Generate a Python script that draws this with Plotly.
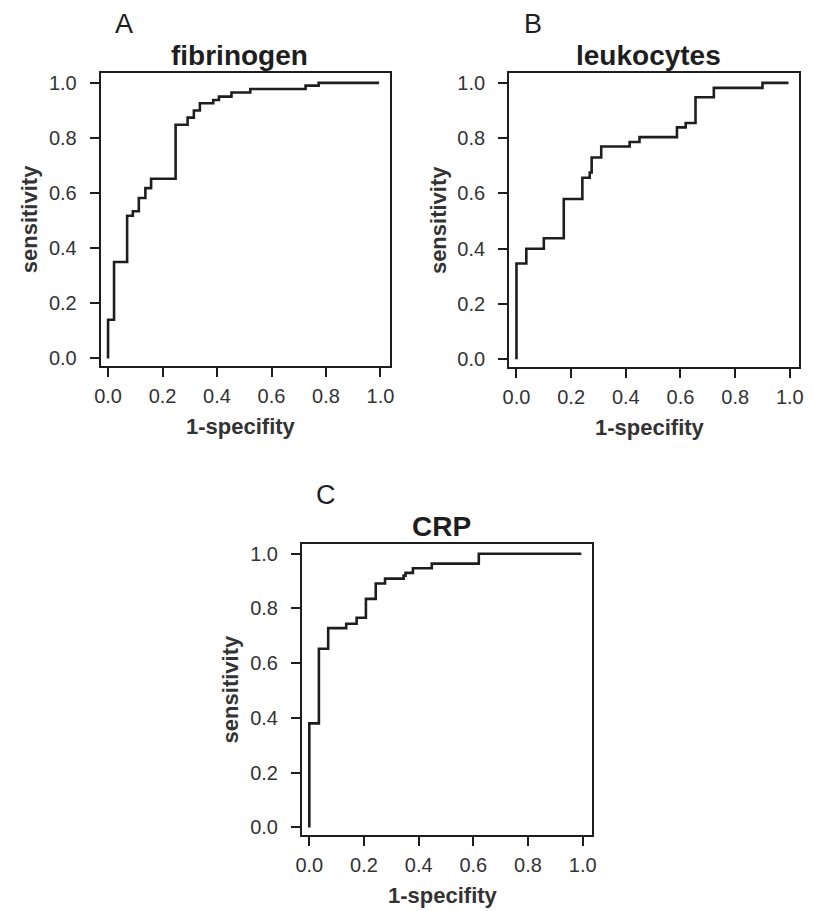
import plotly.graph_objects as go

# ROC curve corner points (1-specificity, sensitivity)
fpr_fib = [0, 0.022, 0.07, 0.091, 0.113, 0.137, 0.158, 0.248, 0.292, 0.315, 0.337, 0.386, 0.407, 0.453, 0.522, 0.725, 0.773, 0.995]
tpr_fib = [0, 0.14, 0.35, 0.518, 0.534, 0.582, 0.618, 0.652, 0.848, 0.874, 0.90, 0.926, 0.938, 0.95, 0.965, 0.978, 0.99, 1.0]

fpr_leu = [0, 0.036, 0.10, 0.173, 0.241, 0.268, 0.275, 0.31, 0.414, 0.45, 0.587, 0.619, 0.655, 0.722, 0.90, 0.995]
tpr_leu = [0, 0.347, 0.40, 0.438, 0.58, 0.657, 0.676, 0.73, 0.77, 0.786, 0.804, 0.839, 0.855, 0.948, 0.982, 1.0]

fpr_crp = [0, 0.035, 0.069, 0.135, 0.173, 0.207, 0.243, 0.277, 0.345, 0.352, 0.379, 0.448, 0.62, 0.995]
tpr_crp = [0, 0.38, 0.653, 0.728, 0.744, 0.766, 0.835, 0.891, 0.909, 0.92, 0.93, 0.947, 0.964, 1.0]

panels = [
    ("A", "fibrinogen", fpr_fib, tpr_fib),
    ("B", "leukocytes", fpr_leu, tpr_leu),
    ("C", "CRP", fpr_crp, tpr_crp),
]
tick_vals = [0.0, 0.2, 0.4, 0.6, 0.8, 1.0]
tick_text = ["0.0", "0.2", "0.4", "0.6", "0.8", "1.0"]

W, H = 813, 911
FONT = "Liberation Sans, Arial, sans-serif"
INK = "#1e1e1e"
GREY = "#333333"

# pixel boxes of each plot frame: left, right, top, bottom
boxes = [(96, 389, 72, 367), (510, 804, 72, 368), (300, 594, 545, 838)]

fig = go.Figure()
annotations = []
for i, ((letter, title, fx, ty), (l, r, t, b)) in enumerate(zip(panels, boxes)):
    n = "" if i == 0 else str(i + 1)
    fig.add_trace(
        go.Scatter(
            x=fx,
            y=ty,
            mode="lines",
            line=dict(color=INK, width=2.6, shape="vh"),
            xaxis="x" + n,
            yaxis="y" + n,
            showlegend=False,
            hoverinfo="x+y",
        )
    )
    axis_common = dict(
        showgrid=False,
        zeroline=False,
        showline=True,
        mirror=True,
        linecolor=INK,
        linewidth=2,
        ticks="outside",
        ticklen=9,
        tickwidth=2,
        tickcolor=INK,
        tickvals=tick_vals,
        ticktext=tick_text,
        tickfont=dict(family=FONT, size=20, color=GREY),
    )
    fig.update_layout(
        **{
            "xaxis" + n: dict(
                domain=[l / W, r / W],
                range=[-0.027, 1.034],
                anchor="y" + n,
                ticklabelstandoff=2,
                **axis_common,
            ),
            "yaxis" + n: dict(
                domain=[1 - b / H, 1 - t / H],
                range=[-0.029, 1.037],
                anchor="x" + n,
                ticklabelstandoff=9,
                **axis_common,
            ),
        }
    )
    cx = (l + r) / 2
    # panel letter
    annotations.append(dict(text=letter, x=(l + 24) / W, y=1 - (t - 49) / H,
                            font=dict(family=FONT, size=27, color=INK)))
    # panel title
    annotations.append(dict(text="<b>" + title + "</b>", x=(cx - 6) / W, y=1 - (t - 17) / H,
                            font=dict(family=FONT, size=28, color=INK)))
    # x title
    annotations.append(dict(text="<b>1-specifity</b>", x=(cx - 4) / W, y=1 - (b + 60) / H,
                            font=dict(family=FONT, size=22, color=GREY)))
    # y title
    annotations.append(dict(text="<b>sensitivity</b>", x=(l - 72) / W, y=1 - ((t + b) / 2) / H,
                            textangle=-90, font=dict(family=FONT, size=22, color=GREY)))

for a in annotations:
    a.update(xref="paper", yref="paper", showarrow=False, xanchor="center", yanchor="middle")

fig.update_layout(
    width=W,
    height=H,
    margin=dict(l=0, r=0, t=0, b=0),
    paper_bgcolor="white",
    plot_bgcolor="white",
    annotations=annotations,
    showlegend=False,
)

fig.write_html(
    "out.html",
    config={"displayModeBar": False},
    post_script="document.body.style.margin='0';document.body.style.overflow='hidden';",
)
